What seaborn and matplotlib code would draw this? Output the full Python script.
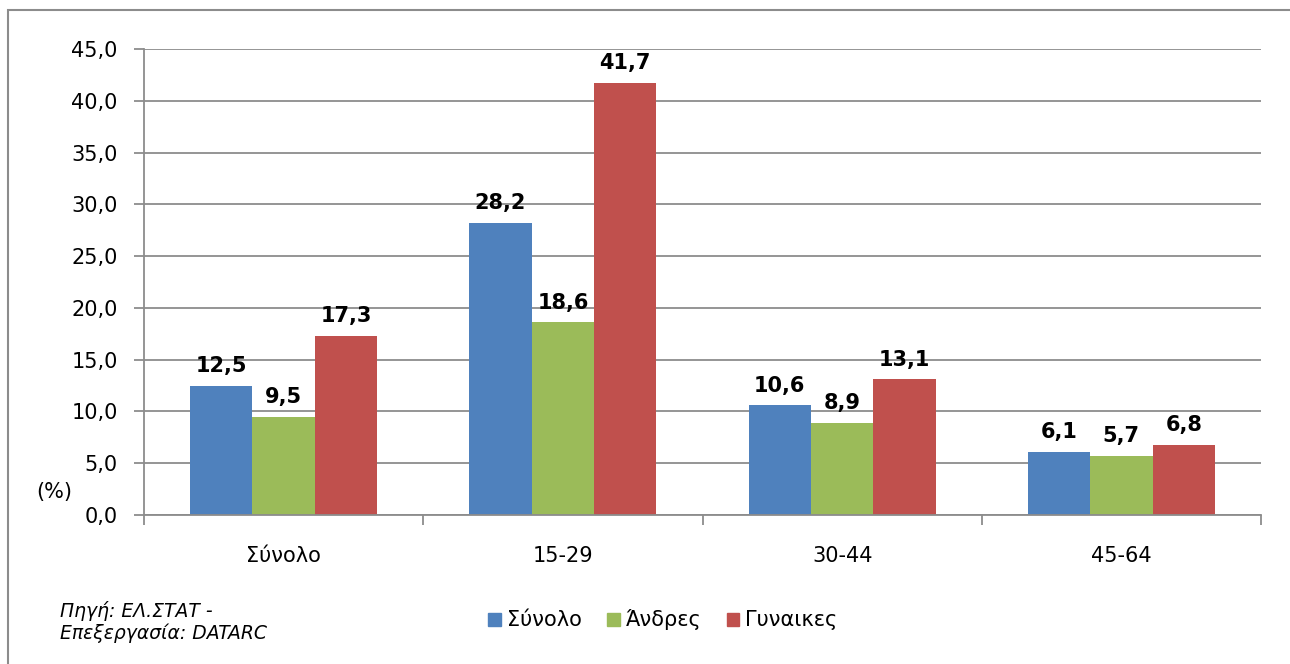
import matplotlib
matplotlib.use("Agg")
import matplotlib.pyplot as plt
import seaborn as sns
import pandas as pd
from matplotlib.patches import Rectangle

categories = ["Σύνολο", "15-29", "30-44", "45-64"]
series_names = ["Σύνολο", "Άνδρες", "Γυναίκες"]
legend_labels = ["Σύνολο", "Άνδρες", "Γυναικες"]
total = [12.5, 28.2, 10.6, 6.1]
men = [9.5, 18.6, 8.9, 5.7]
women = [17.3, 41.7, 13.1, 6.8]
colors = ["#4F81BD", "#9BBB59", "#C0504D"]
yticks = [0, 5, 10, 15, 20, 25, 30, 35, 40, 45]

rows = []
for s, vals in zip(series_names, [total, men, women]):
    for c, v in zip(categories, vals):
        rows.append({"cat": c, "series": s, "value": v})
df = pd.DataFrame(rows)

sns.set_theme(style="white")
plt.rcParams['font.family'] = ['DejaVu Sans']
plt.rcParams['text.color'] = 'black'
plt.rcParams['xtick.color'] = 'black'
plt.rcParams['ytick.color'] = 'black'

fig = plt.figure(figsize=(12.9, 6.64), dpi=100)
ax = fig.add_axes([144/1290, 1 - 515/664, (1261-144)/1290, (515-49)/664])

sns.barplot(data=df, x="cat", y="value", hue="series", order=categories,
            hue_order=series_names, palette=colors, width=0.67, ax=ax,
            saturation=1, linewidth=0, legend=False)

ax.set_ylim(0, 45)
ax.set_xlim(-0.5, 3.5)
ax.set_yticks(yticks)
ax.set_yticklabels([f"{t:.1f}".replace(".", ",") for t in yticks], fontsize=15, color="black")
ax.yaxis.grid(True, color="#8C8C8C", linewidth=1.3)
ax.set_axisbelow(True)
for sp in ["top", "right"]:
    ax.spines[sp].set_visible(False)
ax.spines["left"].set_color("#8C8C8C")
ax.spines["bottom"].set_color("#8C8C8C")
ax.spines["left"].set_linewidth(1.3)
ax.spines["bottom"].set_linewidth(1.3)
ax.set_xlabel("")
ax.set_ylabel("")
ax.tick_params(axis="y", length=7, color="#8C8C8C", width=1.3, pad=12, left=True, labelcolor="black")
ax.set_xticks([0, 1, 2, 3])
ax.set_xticklabels(categories, fontsize=15, color="black")
ax.set_xticks([-0.5, 0.5, 1.5, 2.5, 3.5], minor=True)
ax.tick_params(axis="x", which="major", length=0, pad=22, labelcolor="black")
ax.tick_params(axis="x", which="minor", length=7, color="#8C8C8C", width=1.3, bottom=True)

for container in ax.containers:
    ax.bar_label(container, labels=[f"{v:.1f}".replace(".", ",") for v in container.datavalues],
                 fontsize=15, fontweight="heavy", padding=7, color="black")

fig.text(36/1290, 1 - 492/664, "(%)", fontsize=15, va="center", ha="left", color="black")

fig.text(60/1290, 1 - 622/664, "Πηγή: ΕΛ.ΣΤΑΤ -\nΕπεξεργασία: DATARC", fontsize=13.5,
         style="italic", va="center", ha="left", linespacing=1.2, color="black")

handles = [Rectangle((0, 0), 1, 1, color=c) for c in colors]
fig.legend(handles, legend_labels, loc="center", bbox_to_anchor=(663/1290, 1 - 620/664),
           ncol=3, frameon=False, fontsize=15, handlelength=0.6, handleheight=0.6,
           handletextpad=0.3, columnspacing=1.2, labelcolor="black")

fig.add_artist(Rectangle((8/1290, -0.05), 1.1, 1 - 10/664 + 0.05, transform=fig.transFigure,
                         fill=False, edgecolor="#8C8C8C", linewidth=1.5))

fig.savefig("out.png", dpi=100)
